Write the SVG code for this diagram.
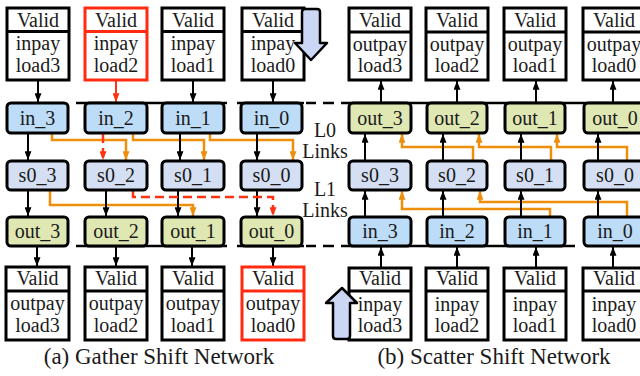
<svg xmlns="http://www.w3.org/2000/svg" width="640" height="376" viewBox="0 0 640 376" font-family="'Liberation Serif', 'Times New Roman', 'DejaVu Serif', serif">
<defs>
<style>
text{font-family:'Liberation Serif','Times New Roman','DejaVu Serif',serif;font-size:20px;fill:#1a1a1a;text-anchor:middle}
.cap{font-size:23px}
.reg{fill:#fff;stroke:#000;stroke-width:3}
.regr{fill:#fff;stroke:#ff2a10;stroke-width:3}
.div{stroke:#000;stroke-width:3}
.divr{stroke:#ff2a10;stroke-width:3}
.in{fill:#bddcf8;stroke:#000;stroke-width:3}
.s0{fill:#d5dff3;stroke:#000;stroke-width:3}
.out{fill:#dfe7b2;stroke:#000;stroke-width:3}
.bk{fill:none;stroke:#000;stroke-width:2;marker-end:url(#ab)}
.or{fill:none;stroke:#ef8e0b;stroke-width:2.5;marker-end:url(#ao)}
.rd{fill:none;stroke:#ff3311;stroke-width:2.5;stroke-dasharray:9 5;marker-end:url(#ar)}
.rs{fill:none;stroke:#ff3311;stroke-width:2;marker-end:url(#ar)}
.bd{fill:none;stroke:#000;stroke-width:2.5}
.big{fill:#ccd7f6;stroke:#000;stroke-width:2.5;stroke-linejoin:round}
</style>
<marker id="ab" viewBox="0 0 10 8" refX="10" refY="4" markerWidth="9" markerHeight="7" markerUnits="userSpaceOnUse" orient="auto"><path d="M0,0 L10,4 L0,8 z" fill="#000"/></marker>
<marker id="ao" viewBox="0 0 10 8" refX="10" refY="4" markerWidth="9" markerHeight="7" markerUnits="userSpaceOnUse" orient="auto"><path d="M0,0 L10,4 L0,8 z" fill="#ef8e0b"/></marker>
<marker id="ar" viewBox="0 0 10 8" refX="10" refY="4" markerWidth="9" markerHeight="7" markerUnits="userSpaceOnUse" orient="auto"><path d="M0,0 L10,4 L0,8 z" fill="#ff3311"/></marker>
</defs>

<g id="boundaries">
<path class="bd" d="M76,103H227M237,103H304M306,103H316M323,103H334M341,103H640"/>
<path class="bd" d="M76,246H227M237,246H304M306,246H316M323,246H334M341,246H575"/>
</g>

<g id="connectors">
<path class="bk" d="M38,81V102"/>
<path class="rs" d="M116,81V102"/>
<path class="bk" d="M193,81V102"/>
<path class="bk" d="M273,81V102"/>
<path class="or" d="M52,134V140H126V160"/>
<path class="or" d="M133,134V140H204V160"/>
<path class="or" d="M210,134V140H293V160"/>
<path class="bk" d="M28,134V160"/>
<path class="bk" d="M180,134V160"/>
<path class="bk" d="M257,134V160"/>
<path class="rd" d="M103,134V160"/>
<path class="or" d="M50,191V205H193V216"/>
<path class="bk" d="M28,191V216"/>
<path class="bk" d="M106,191V216"/>
<path class="bk" d="M178,191V216"/>
<path class="bk" d="M257,191V216"/>
<path class="rd" d="M133,191V197H273V216"/>
<path class="bk" d="M37,247V266"/>
<path class="bk" d="M116,247V266"/>
<path class="bk" d="M192,247V266"/>
<path class="bk" d="M273,247V266"/>
<path class="bk" d="M381,267V247"/>
<path class="bk" d="M457,267V247"/>
<path class="bk" d="M536,267V247"/>
<path class="bk" d="M613,267V247"/>
<path class="or" d="M550,216V209H402V191"/>
<path class="or" d="M627,216V202H480V191"/>
<path class="bk" d="M365,216V191"/>
<path class="bk" d="M443,216V191"/>
<path class="bk" d="M521,216V191"/>
<path class="bk" d="M598,216V191"/>
<path class="or" d="M473,160V147H402V134"/>
<path class="or" d="M551,160V147H479V134"/>
<path class="or" d="M627,160V147H557V134"/>
<path class="bk" d="M365,160V134"/>
<path class="bk" d="M443,160V134"/>
<path class="bk" d="M521,160V134"/>
<path class="bk" d="M598,160V134"/>
<path class="bk" d="M381,102V81"/>
<path class="bk" d="M457,102V81"/>
<path class="bk" d="M536,102V81"/>
<path class="bk" d="M613,102V81"/>
</g>

<g id="g_inreg3"><rect class="reg" x="7" y="8" width="62" height="72"/><line class="div" x1="7" y1="31.5" x2="69" y2="31.5"/><text x="38" y="27">Valid</text><text x="38" y="50">inpay</text><text x="38" y="72">load3</text></g>
<g id="g_inreg2"><rect class="regr" x="85" y="8" width="62" height="72"/><line class="divr" x1="85" y1="31.5" x2="147" y2="31.5"/><text x="116" y="27">Valid</text><text x="116" y="50">inpay</text><text x="116" y="72">load2</text></g>
<g id="g_inreg1"><rect class="reg" x="162" y="8" width="62" height="72"/><line class="div" x1="162" y1="31.5" x2="224" y2="31.5"/><text x="193" y="27">Valid</text><text x="193" y="50">inpay</text><text x="193" y="72">load1</text></g>
<g id="g_inreg0"><rect class="reg" x="242" y="8" width="62" height="72"/><line class="div" x1="242" y1="31.5" x2="304" y2="31.5"/><text x="273" y="27">Valid</text><text x="273" y="50">inpay</text><text x="273" y="72">load0</text></g>

<g id="g_in_3"><rect class="in" x="7" y="103" width="61" height="30" rx="4"/><text x="37.5" y="125">in_3</text></g>
<g id="g_in_2"><rect class="in" x="85" y="103" width="62" height="30" rx="4"/><text x="116" y="125">in_2</text></g>
<g id="g_in_1"><rect class="in" x="162" y="103" width="62" height="30" rx="4"/><text x="193" y="125">in_1</text></g>
<g id="g_in_0"><rect class="in" x="241" y="103" width="61" height="30" rx="4"/><text x="271.5" y="125">in_0</text></g>

<g id="g_s0_3"><rect class="s0" x="7" y="161" width="61" height="29" rx="4"/><text x="37.5" y="182">s0_3</text></g>
<g id="g_s0_2"><rect class="s0" x="85" y="161" width="62" height="29" rx="4"/><text x="116" y="182">s0_2</text></g>
<g id="g_s0_1"><rect class="s0" x="162" y="161" width="62" height="29" rx="4"/><text x="193" y="182">s0_1</text></g>
<g id="g_s0_0"><rect class="s0" x="241" y="161" width="61" height="29" rx="4"/><text x="271.5" y="182">s0_0</text></g>

<g id="g_out_3"><rect class="out" x="7" y="217" width="61" height="29" rx="4"/><text x="37.5" y="238">out_3</text></g>
<g id="g_out_2"><rect class="out" x="85" y="217" width="62" height="29" rx="4"/><text x="116" y="238">out_2</text></g>
<g id="g_out_1"><rect class="out" x="162" y="217" width="62" height="29" rx="4"/><text x="193" y="238">out_1</text></g>
<g id="g_out_0"><rect class="out" x="241" y="217" width="61" height="29" rx="4"/><text x="271.5" y="238">out_0</text></g>

<g id="g_outreg3"><rect class="reg" x="6" y="267" width="63" height="73"/><line class="div" x1="6" y1="291" x2="69" y2="291"/><text x="37.5" y="285">Valid</text><text x="37.5" y="310">outpay</text><text x="37.5" y="332">load3</text></g>
<g id="g_outreg2"><rect class="reg" x="85" y="267" width="62" height="73"/><line class="div" x1="85" y1="291" x2="147" y2="291"/><text x="116" y="285">Valid</text><text x="116" y="310">outpay</text><text x="116" y="332">load2</text></g>
<g id="g_outreg1"><rect class="reg" x="162" y="267" width="62" height="73"/><line class="div" x1="162" y1="291" x2="224" y2="291"/><text x="193" y="285">Valid</text><text x="193" y="310">outpay</text><text x="193" y="332">load1</text></g>
<g id="g_outreg0"><rect class="regr" x="242" y="267" width="62" height="73"/><line class="divr" x1="242" y1="291" x2="304" y2="291"/><text x="273" y="285">Valid</text><text x="273" y="310">outpay</text><text x="273" y="332">load0</text></g>

<g id="g_bigarrow"><path class="big" d="M302,12Q302,9 305,9H317Q320,9 320,12V43H327L311,60L295,43H302Z"/></g>

<text class="cap" x="159" y="364">(a) Gather Shift Network</text>

<g id="labels">
<text x="325" y="137">L0</text>
<text x="325" y="158">Links</text>
<text x="325" y="196">L1</text>
<text x="325" y="217">Links</text>
</g>

<g id="s_outreg3"><rect class="reg" x="349" y="8" width="62" height="72"/><line class="div" x1="349" y1="32" x2="411" y2="32"/><text x="380" y="27">Valid</text><text x="380" y="51">outpay</text><text x="380" y="72">load3</text></g>
<g id="s_outreg2"><rect class="reg" x="426" y="8" width="62" height="72"/><line class="div" x1="426" y1="32" x2="488" y2="32"/><text x="457" y="27">Valid</text><text x="457" y="51">outpay</text><text x="457" y="72">load2</text></g>
<g id="s_outreg1"><rect class="reg" x="504" y="8" width="62" height="72"/><line class="div" x1="504" y1="32" x2="566" y2="32"/><text x="535" y="27">Valid</text><text x="535" y="51">outpay</text><text x="535" y="72">load1</text></g>
<g id="s_outreg0"><rect class="reg" x="583" y="8" width="62" height="72"/><line class="div" x1="583" y1="32" x2="645" y2="32"/><text x="614" y="27">Valid</text><text x="614" y="51">outpay</text><text x="614" y="72">load0</text></g>

<g id="s_out_3"><rect class="out" x="349" y="103" width="62" height="30" rx="4"/><text x="380" y="125">out_3</text></g>
<g id="s_out_2"><rect class="out" x="427" y="103" width="60" height="30" rx="4"/><text x="457" y="125">out_2</text></g>
<g id="s_out_1"><rect class="out" x="505" y="103" width="60" height="30" rx="4"/><text x="535" y="125">out_1</text></g>
<g id="s_out_0"><rect class="out" x="584" y="103" width="62" height="30" rx="4"/><text x="615" y="125">out_0</text></g>

<g id="s_s0_3"><rect class="s0" x="349" y="161" width="62" height="29" rx="4"/><text x="380" y="182">s0_3</text></g>
<g id="s_s0_2"><rect class="s0" x="427" y="161" width="60" height="29" rx="4"/><text x="457" y="182">s0_2</text></g>
<g id="s_s0_1"><rect class="s0" x="505" y="161" width="60" height="29" rx="4"/><text x="535" y="182">s0_1</text></g>
<g id="s_s0_0"><rect class="s0" x="584" y="161" width="62" height="29" rx="4"/><text x="615" y="182">s0_0</text></g>

<g id="s_in_3"><rect class="in" x="349" y="217" width="62" height="29" rx="4"/><text x="380" y="238">in_3</text></g>
<g id="s_in_2"><rect class="in" x="427" y="217" width="60" height="29" rx="4"/><text x="457" y="238">in_2</text></g>
<g id="s_in_1"><rect class="in" x="505" y="217" width="60" height="29" rx="4"/><text x="535" y="238">in_1</text></g>
<g id="s_in_0"><rect class="in" x="584" y="217" width="62" height="29" rx="4"/><text x="615" y="238">in_0</text></g>

<g id="s_inreg3"><rect class="reg" x="349" y="268" width="62" height="72"/><line class="div" x1="349" y1="291" x2="411" y2="291"/><text x="380" y="285">Valid</text><text x="380" y="311">inpay</text><text x="380" y="332">load3</text></g>
<g id="s_inreg2"><rect class="reg" x="426" y="268" width="62" height="72"/><line class="div" x1="426" y1="291" x2="488" y2="291"/><text x="457" y="285">Valid</text><text x="457" y="311">inpay</text><text x="457" y="332">load2</text></g>
<g id="s_inreg1"><rect class="reg" x="504" y="268" width="62" height="72"/><line class="div" x1="504" y1="291" x2="566" y2="291"/><text x="535" y="285">Valid</text><text x="535" y="311">inpay</text><text x="535" y="332">load1</text></g>
<g id="s_inreg0"><rect class="reg" x="583" y="268" width="62" height="72"/><line class="div" x1="583" y1="291" x2="645" y2="291"/><text x="614" y="285">Valid</text><text x="614" y="311">inpay</text><text x="614" y="332">load0</text></g>

<g id="s_bigarrow"><path class="big" d="M333,336V303H326L342,288L357,303H350V336Q350,339 347,339H336Q333,339 333,336Z"/></g>

<text class="cap" x="494" y="364">(b) Scatter Shift Network</text>
</svg>
